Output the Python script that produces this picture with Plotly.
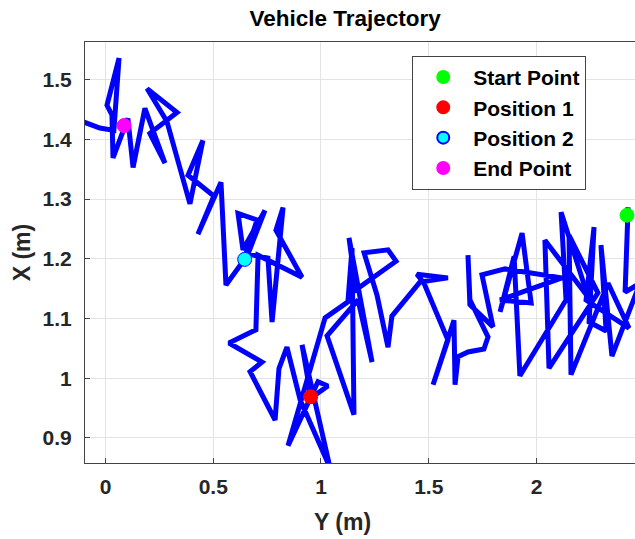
import plotly.graph_objects as go

# Trajectory (Y in m on horizontal axis, X in m on vertical axis), from start to end
traj_y = [2.420, 2.425, 2.411, 2.480, 2.350, 2.299, 2.323, 2.244, 2.267, 2.230,
          2.429, 2.332, 2.160, 2.151, 2.285, 2.058, 2.039, 2.239, 2.114, 2.137,
          1.923, 1.896, 1.831, 1.933, 1.975, 1.831, 2.118, 1.854, 1.747, 1.798,
          1.691, 1.682, 1.691, 1.775, 1.756, 1.682, 1.636, 1.622, 1.617, 1.520,
          1.589, 1.478, 1.445, 1.589, 1.459, 1.329, 1.311, 1.260, 1.200, 1.311,
          1.348, 1.162, 1.130, 1.237, 1.172, 1.028, 1.153, 1.144, 1.125, 1.019,
          0.847, 0.986, 1.032, 0.954, 0.912, 1.042, 0.903, 0.842, 0.805, 0.787,
          0.671, 0.726, 0.573, 0.698, 0.708, 0.912, 0.791, 0.824, 0.773, 0.754,
          0.661, 0.740, 0.638, 0.615, 0.703, 0.643, 0.559, 0.536, 0.429, 0.503,
          0.383, 0.452, 0.392, 0.285, 0.193, 0.332, 0.206, 0.276, 0.183, 0.128,
          0.104, 0.035, 0.030, 0.007, 0.063, 0.039, -0.026, -0.109]
traj_x = [1.273, 1.286, 1.144, 1.159, 1.037, 1.223, 1.079, 1.094, 1.253, 1.131,
          1.084, 1.159, 1.006, 1.239, 1.143, 1.017, 1.231, 1.136, 1.278, 1.131,
          1.004, 1.204, 1.111, 1.243, 1.126, 1.131, 1.168, 1.183, 1.173, 1.086,
          1.123, 1.206, 1.131, 1.069, 1.049, 1.044, 1.036, 0.989, 1.097, 0.989,
          1.064, 1.159, 1.174, 1.168, 1.161, 1.104, 1.052, 1.139, 1.210, 1.215,
          1.196, 1.148, 1.235, 1.027, 1.131, 1.071, 0.939, 1.218, 1.128, 1.101,
          0.887, 0.994, 0.987, 0.967, 1.056, 0.850, 0.964, 1.052, 1.016, 0.930,
          1.011, 1.027, 1.059, 1.081, 1.206, 1.169, 1.248, 1.286, 1.094, 1.201,
          1.208, 1.281, 1.215, 1.276, 1.265, 1.198, 1.156, 1.328, 1.241, 1.305,
          1.340, 1.398, 1.292, 1.430, 1.485, 1.445, 1.410, 1.360, 1.452, 1.353,
          1.435, 1.369, 1.441, 1.457, 1.536, 1.415, 1.419, 1.430]

# Key points
point_names = ["Start Point", "Position 1", "Position 2", "End Point"]
point_y = [2.420, 0.952, 0.646, 0.086]
point_x = [1.273, 0.969, 1.199, 1.423]
point_colors = ["#00ff00", "#ff0000", "#00ffff", "#ff00ff"]
point_edges = ["#00ff00", "#ff0000", "#0000ff", "#ff00ff"]

x_ticks = [0, 0.5, 1, 1.5, 2]
x_ticktext = ["0", "0.5", "1", "1.5", "2"]
y_ticks = [0.9, 1.0, 1.1, 1.2, 1.3, 1.4, 1.5]
y_ticktext = ["0.9", "1", "1.1", "1.2", "1.3", "1.4", "1.5"]

FONT = "Liberation Sans, Arial, sans-serif"

fig = go.Figure()
fig.add_trace(go.Scatter(x=traj_y, y=traj_x, mode="lines",
                         line=dict(color="#0000ff", width=5),
                         showlegend=False, hoverinfo="skip"))
for n, yy, xx, c, e in zip(point_names, point_y, point_x, point_colors, point_edges):
    fig.add_trace(go.Scatter(x=[yy], y=[xx], mode="markers", name=n,
                             marker=dict(size=14, color=c, line=dict(color=e, width=1))))

axis_common = dict(showline=True, linecolor="#444444", linewidth=1, mirror=True,
                   ticks="inside", ticklen=5, tickcolor="#444444",
                   showgrid=True, gridcolor="#e3e3e3", gridwidth=1, zeroline=False,
                   tickfont=dict(family=FONT, size=21, color="#262626", weight="bold"))

fig.update_layout(
    width=635, height=539,
    margin=dict(l=85, r=0, t=42, b=76),
    paper_bgcolor="white", plot_bgcolor="white",
    title=dict(text="Vehicle Trajectory", x=0.473, xref="paper", xanchor="center",
               y=1 - 18 / 539, yanchor="middle",
               font=dict(family=FONT, size=22.5, color="black", weight="bold")),
    xaxis=dict(range=[-0.095, 2.457], tickvals=x_ticks, ticktext=x_ticktext,
               ticklabelstandoff=5, **axis_common),
    yaxis=dict(range=[0.858, 1.563], tickvals=y_ticks, ticktext=y_ticktext,
               ticklabelstandoff=8,
               title=dict(text="X (m)", standoff=5,
                          font=dict(family=FONT, size=23, color="#262626", weight="bold")),
               **axis_common),
    legend=dict(x=0.595, y=0.967, xanchor="left", yanchor="top",
                bgcolor="white", bordercolor="#444444", borderwidth=1,
                font=dict(family=FONT, size=21, color="black", weight="bold"),
                tracegroupgap=0, itemsizing="constant", itemwidth=50),
    showlegend=True,
    annotations=[dict(text="Y (m)", xref="paper", yref="paper", x=0.469, y=-0.140,
                      xanchor="center", yanchor="middle", showarrow=False,
                      font=dict(family=FONT, size=23, color="#262626", weight="bold"))],
)

fig.write_html("out.html")
